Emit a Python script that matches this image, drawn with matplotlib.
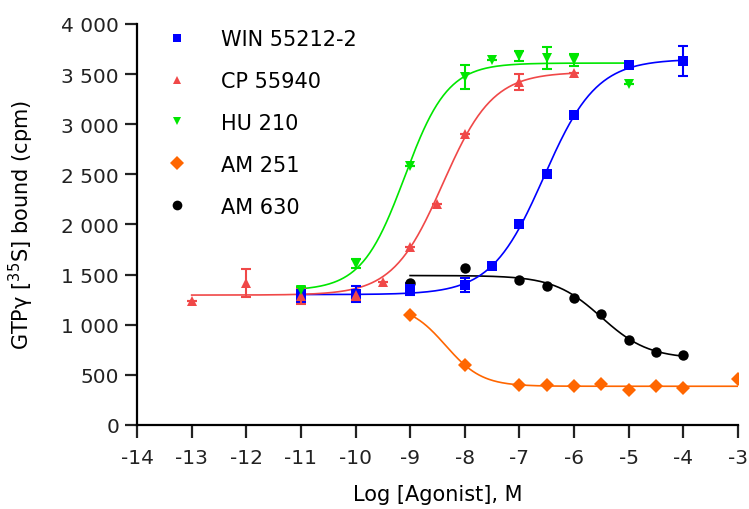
import matplotlib
matplotlib.use("Agg")
import matplotlib.pyplot as plt
from matplotlib.lines import Line2D
from matplotlib.ticker import FuncFormatter
import numpy as np

plt.rcParams["font.family"] = ["DejaVu Sans"]
plt.rcParams["axes.unicode_minus"] = False

# measured points: log[agonist] (M), GTPγS bound (cpm), error
win_x = [-11, -10, -9, -8, -7.5, -7, -6.5, -6, -5, -4]
win_y = [1290, 1305, 1355, 1395, 1585, 2005, 2505, 3090, 3590, 3630]
win_err = [60, 80, 60, 70, 0, 0, 0, 0, 0, 150]

cp_x = [-13, -12, -11, -10, -9.5, -9, -8.5, -8, -7, -6]
cp_y = [1240, 1420, 1290, 1300, 1425, 1775, 2200, 2905, 3425, 3515]
cp_err = [0, 140, 80, 50, 0, 0, 0, 0, 80, 0]

hu_x = [-11, -10, -9, -8, -7.5, -7, -6.5, -6, -5]
hu_y = [1350, 1610, 2585, 3470, 3640, 3680, 3660, 3640, 3400]
hu_err = [30, 40, 0, 120, 0, 50, 110, 60, 0]

am251_x = [-9, -8, -7, -6.5, -6, -5.5, -5, -4.5, -4, -3]
am251_y = [1100, 600, 400, 400, 390, 405, 345, 390, 370, 460]

am630_x = [-9, -8, -7, -6.5, -6, -5.5, -5, -4.5, -4]
am630_y = [1420, 1565, 1445, 1385, 1265, 1105, 850, 725, 700]

# sigmoidal fit parameters: bottom, top, logEC50, hill, x range
win_fit = (1300, 3650, -6.55, 0.9, -11, -4)
cp_fit = (1295, 3520, -8.4, 0.95, -13, -6)
hu_fit = (1340, 3610, -9.1, 1.1, -11, -5)
am251_fit = (385, 1200, -8.35, -1.3, -9, -3)
am630_fit = (660, 1490, -5.5, -1.0, -9, -4)

c_win = "#0000ff"
c_cp = "#f04848"
c_hu = "#00e600"
c_am251 = "#ff6600"
c_am630 = "#000000"


def fit_curve(p):
    bottom, top, ec50, hill, x0, x1 = p
    xs = np.linspace(x0, x1, 300)
    return xs, bottom + (top - bottom) / (1 + 10 ** ((ec50 - xs) * hill))


fig = plt.figure(figsize=(7.49, 5.10), dpi=100)
ax = fig.add_axes([0.183, 0.165, 0.802, 0.786])

series = [
    (am251_x, am251_y, None, am251_fit, c_am251, "D", 7.5),
    (am630_x, am630_y, None, am630_fit, c_am630, "o", 7.5),
    (win_x, win_y, win_err, win_fit, c_win, "s", 7.5),
    (cp_x, cp_y, cp_err, cp_fit, c_cp, "^", 7.5),
    (hu_x, hu_y, hu_err, hu_fit, c_hu, "v", 7.5),
]
for xs, ys, err, fit, col, mk, ms in series:
    cx, cy = fit_curve(fit)
    ax.plot(cx, cy, color=col, lw=1.2, zorder=2)
    if err is not None:
        ax.errorbar(xs, ys, yerr=err, fmt="none", ecolor=col, elinewidth=1.5,
                    capsize=3.5, capthick=1.5, zorder=3)
    ax.plot(xs, ys, ls="none", marker=mk, color=col, markersize=ms,
            markeredgewidth=0, zorder=4)

ax.set_xlim(-14, -3)
ax.set_ylim(0, 4000)
ax.set_xticks(range(-14, -2))
ax.set_yticks(range(0, 4001, 500))
ax.yaxis.set_major_formatter(FuncFormatter(lambda v, p: f"{int(v):,}".replace(",", " ")))
ax.xaxis.set_major_formatter(FuncFormatter(lambda v, p: f"{int(v)}"))

for s in ["top", "right"]:
    ax.spines[s].set_visible(False)
for s in ["left", "bottom"]:
    ax.spines[s].set_linewidth(1.6)
ax.tick_params(direction="out", length=9, width=1.6, labelsize=14.5, colors="#222222")
ax.tick_params(axis="y", pad=4)
ax.tick_params(axis="x", pad=8)

ax.set_xlabel("Log [Agonist], M", fontsize=15, labelpad=12)
ax.set_ylabel("GTPγ [$^{35}$S] bound (cpm)", fontsize=15, labelpad=18)

labels = ["WIN 55212-2", "CP 55940", "HU 210", "AM 251", "AM 630"]
handles = [
    Line2D([], [], ls="none", marker="s", color=c_win, markersize=6, markeredgewidth=0),
    Line2D([], [], ls="none", marker="^", color=c_cp, markersize=6, markeredgewidth=0),
    Line2D([], [], ls="none", marker="v", color=c_hu, markersize=6, markeredgewidth=0),
    Line2D([], [], ls="none", marker="D", color=c_am251, markersize=7, markeredgewidth=0),
    Line2D([], [], ls="none", marker="o", color=c_am630, markersize=7, markeredgewidth=0),
]
ax.legend(handles, labels, loc="upper left", bbox_to_anchor=(167 / 749, 1 - 30 / 510),
          bbox_transform=fig.transFigure, frameon=False, fontsize=15,
          handlelength=1.0, handletextpad=1.6, labelspacing=1.05, borderpad=0,
          borderaxespad=0)

fig.savefig("out.png", dpi=100)
